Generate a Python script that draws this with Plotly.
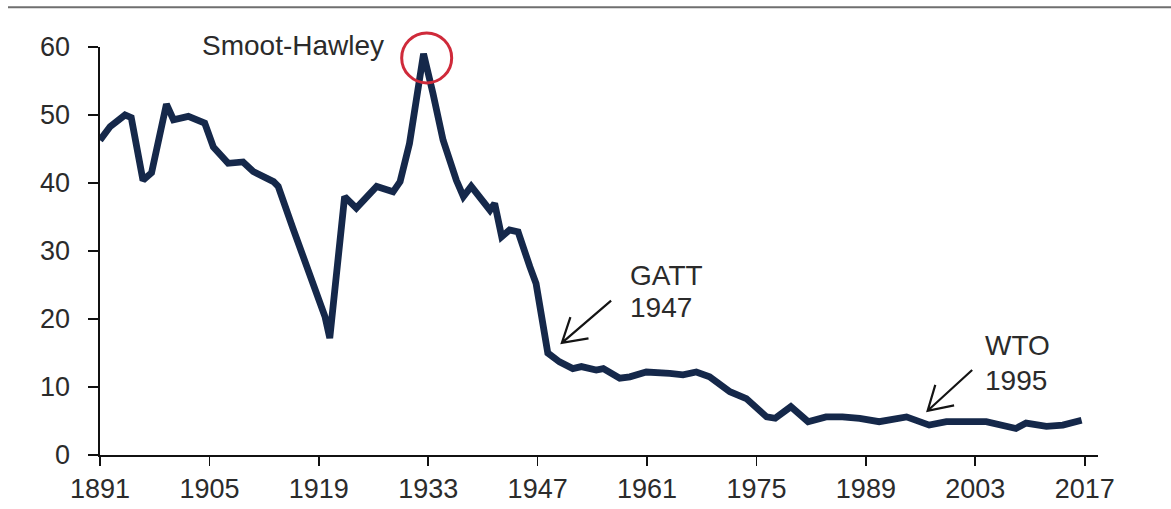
import math
import plotly.graph_objects as go

# Average US tariff rate (%)
years = [1891, 1892.3, 1894.2, 1895.0, 1896.5, 1897.6, 1899.5, 1900.4, 1902.3, 1904.4,
         1905.5, 1907.4, 1909.3, 1910.6, 1913.2, 1913.8, 1915.7, 1917.5, 1919.8, 1920.4,
         1922.3, 1923.8, 1926.4, 1928.5, 1929.4, 1930.6, 1931.7, 1932.4, 1933.6, 1934.9,
         1936.6, 1937.5, 1938.5, 1939.8, 1940.9, 1941.5, 1942.4, 1943.4, 1944.5, 1946.0,
         1946.8, 1948.3, 1949.8, 1951.5, 1952.6, 1954.5, 1955.4, 1957.5, 1958.8, 1960.9,
         1962.2, 1963.9, 1965.6, 1967.3, 1969.0, 1971.6, 1973.7, 1975.0, 1976.3, 1977.4,
         1979.4, 1981.6, 1983.9, 1986.0, 1988.2, 1990.7, 1994.2, 1997.1, 1999.3, 2001.8,
         2004.4, 2008.2, 2009.5, 2012.1, 2014.2, 2016.6]
tariff = [46.3, 48.3, 50.0, 49.6, 40.4, 41.5, 51.6, 49.3, 49.8, 48.8,
          45.3, 42.9, 43.1, 41.7, 40.2, 39.5, 33.3, 27.5, 20.3, 17.2,
          38.0, 36.3, 39.5, 38.7, 40.2, 45.8, 53.2, 59.0, 53.2, 46.3,
          40.4, 38.0, 39.5, 37.5, 36.0, 37.0, 32.1, 33.1, 32.8, 27.7,
          25.2, 15.0, 13.7, 12.7, 13.0, 12.5, 12.7, 11.3, 11.5, 12.2,
          12.2, 12.0, 11.8, 12.2, 11.5, 9.3, 8.3, 6.9, 5.6, 5.4,
          7.1, 4.9, 5.6, 5.6, 5.4, 4.9, 5.6, 4.4, 4.9, 4.9,
          4.9, 3.9, 4.7, 4.2, 4.4, 5.1]

tick_years = [1891, 1905, 1919, 1933, 1947, 1961, 1975, 1989, 2003, 2017]
y_ticks = [0, 10, 20, 30, 40, 50, 60]

# annotation texts and anchors (data coords)
label_lines = [
    ("GATT", 1958.6, 26.45),
    ("1947", 1958.6, 21.75),
    ("WTO", 2004.0, 16.15),
    ("1995", 2004.0, 11.0),
]
smoot_label = ("Smoot-Hawley", 1903.8, 60.0)
arrows = [
    ((1950.1, 16.5), (1956.4, 22.7)),   # GATT: head, tail
    ((1996.9, 6.5), (2002.6, 12.5)),    # WTO: head, tail
]

X0, X1 = 1891, 2018.7
Y0, Y1 = 0, 60
L, R, T, B = 100, 73, 47, 54
W, H = 1171, 509
PW, PH = W - L - R, H - T - B
SX, SY = PW / (X1 - X0), PH / (Y1 - Y0)

FONT = "Liberation Sans, Arial, sans-serif"
TXT = "#2b2b2b"
LINE = "#15284a"


def arrow_path(head, tail, arm=27, half_angle=31):
    hx, hy = head
    tx, ty = tail
    dx, dy = (tx - hx) * SX, (ty - hy) * SY
    n = math.hypot(dx, dy)
    ux, uy = dx / n, dy / n
    pts = []
    for s in (1, -1):
        a = math.radians(s * half_angle)
        rx = ux * math.cos(a) - uy * math.sin(a)
        ry = ux * math.sin(a) + uy * math.cos(a)
        pts.append((hx + rx * arm / SX, hy + ry * arm / SY))
    (a1x, a1y), (a2x, a2y) = pts
    return (f"M{tx},{ty} L{hx},{hy} M{a1x},{a1y} L{hx},{hy} L{a2x},{a2y}")


fig = go.Figure()
fig.add_trace(go.Scatter(x=years, y=tariff, mode="lines",
                         line=dict(color=LINE, width=6.8), hoverinfo="skip"))

# red circle around the peak
peak_i = max(range(len(tariff)), key=lambda i: tariff[i])
fig.add_trace(go.Scatter(x=[years[peak_i] + 0.4], y=[tariff[peak_i] - 0.6], mode="markers",
                         marker=dict(size=50, color="rgba(0,0,0,0)",
                                     line=dict(color="#cf2a3a", width=3)),
                         cliponaxis=False, hoverinfo="skip"))

annos = []
for (lbl, x, y) in label_lines:
    annos.append(dict(x=x, y=y, xref="x", yref="y", text=lbl, showarrow=False,
                      xanchor="left", yanchor="middle", align="left",
                      font=dict(family=FONT, size=28, color=TXT)))
annos.append(dict(x=smoot_label[1], y=smoot_label[2], xref="x", yref="y", text=smoot_label[0],
                  showarrow=False, xanchor="left", yanchor="middle", yshift=2,
                  font=dict(family=FONT, size=28, color=TXT)))

shapes = [dict(type="line", xref="paper", yref="paper",
               x0=(8 - L) / PW, x1=1.1, y0=1 + (T - 7.3) / PH, y1=1 + (T - 7.3) / PH,
               line=dict(color="#6f6f6f", width=2))]
for head, tail in arrows:
    shapes.append(dict(type="path", xref="x", yref="y", path=arrow_path(head, tail),
                       line=dict(color="#141414", width=2.2)))

fig.update_layout(
    width=W, height=H,
    margin=dict(l=L, r=R, t=T, b=B, autoexpand=False),
    paper_bgcolor="white", plot_bgcolor="white",
    showlegend=False,
    annotations=annos,
    shapes=shapes,
)
fig.update_xaxes(range=[X0, X1], tickvals=tick_years, ticktext=[str(t) for t in tick_years],
                 showgrid=False, zeroline=False, showline=True, linecolor="#111111", linewidth=1.6,
                 ticks="outside", ticklen=9, tickwidth=1.6, tickcolor="#111111", automargin=False,
                 tickfont=dict(family=FONT, size=27, color=TXT))
fig.update_yaxes(range=[Y0, Y1], tickvals=y_ticks,
                 showgrid=False, zeroline=False, showline=True, linecolor="#111111", linewidth=1.6,
                 ticks="outside", ticklen=10, tickwidth=1.6, tickcolor="#111111", automargin=False,
                 ticklabelstandoff=13,
                 tickfont=dict(family=FONT, size=27, color=TXT))

fig.write_html("out.html", config={"displayModeBar": False, "staticPlot": True},
               post_script="document.body.style.margin='0px';document.body.style.overflow='hidden';")
